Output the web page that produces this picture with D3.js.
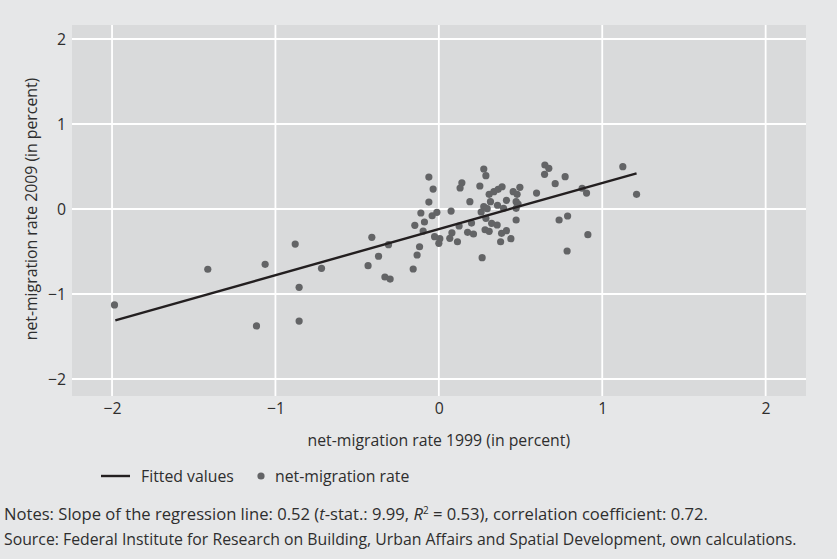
<!DOCTYPE html>
<html>
<head>
<meta charset="utf-8">
<script src="https://cdn.jsdelivr.net/npm/d3@7"></script>
<style>
  body { margin: 0; background: #e6e7e8; }
  svg { display: block; font-family: "Open Sans", sans-serif; }
</style>
</head>
<body>
<div id="chart"></div>
<script>
// net-migration rate 1999 (x) vs 2009 (y)
var rate1999 = [-0.061, -0.035, -0.061, -0.110, -0.088, -0.147, -0.096, -0.041, -0.012, -0.026,
  0.006, 0.000, -0.118, -0.133, -0.157, 0.075, 0.141, 0.130, 0.190, 0.124,
  0.080, 0.067, 0.114, 0.176, 0.212, 0.200, 0.251, 0.275, 0.288, 0.259,
  0.275, 0.296, 0.288, 0.316, 0.308, 0.337, 0.363, 0.387, 0.359, 0.396,
  0.414, 0.323, 0.357, 0.283, 0.308, 0.384, 0.414, 0.378, 0.441, 0.265,
  0.455, 0.479, 0.496, 0.473, 0.485, 0.473, 0.473, 0.598, 0.649, 0.673,
  0.647, 0.712, 0.773, 0.736, 0.788, 0.785, 0.877, 0.904, 0.912, 1.126,
  1.210, -1.985, -1.414, -1.116, -1.063, -0.879, -0.855, -0.855, -0.718, -0.433,
  -0.410, -0.369, -0.308, -0.330, -0.298];
var rate2009 = [0.376, 0.235, 0.082, -0.047, -0.153, -0.192, -0.259, -0.079, -0.039, -0.326,
  -0.349, -0.404, -0.444, -0.541, -0.706, -0.024, 0.309, 0.247, 0.086, -0.200,
  -0.279, -0.345, -0.385, -0.274, -0.294, -0.165, 0.271, 0.471, 0.392, -0.035,
  0.027, 0.004, -0.109, 0.086, 0.173, 0.204, 0.232, 0.262, 0.044, 0.008,
  0.102, -0.168, -0.188, -0.244, -0.262, -0.286, -0.255, -0.385, -0.349, -0.573,
  0.204, 0.173, 0.255, 0.086, 0.059, 0.008, -0.129, 0.188, 0.518, 0.479,
  0.408, 0.298, 0.380, -0.129, -0.082, -0.494, 0.244, 0.188, -0.302, 0.498,
  0.173, -1.129, -0.709, -1.376, -0.651, -0.412, -0.921, -1.318, -0.698, -0.667,
  -0.333, -0.556, -0.420, -0.800, -0.824];

// fitted line end points
var fitX = [-1.98, 1.21];
var fitY = [-1.31, 0.42];

var xTicks = [-2, -1, 0, 1, 2];
var yTicks = [-2, -1, 0, 1, 2];

var notes = "Notes: Slope of the regression line: 0.52 (";
var source = "Source: Federal Institute for Research on Building, Urban Affairs and Spatial Development, own calculations.";

var width = 837, height = 559;
var plot = { left: 72, right: 806, top: 25, bottom: 396 };
var fs = "15.8px";
var ink = "#2e2e2e";

var svg = d3.select("#chart").append("svg")
    .attr("width", width)
    .attr("height", height);

svg.append("rect")
    .attr("width", width).attr("height", height)
    .attr("fill", "#e6e7e8");

var x = d3.scaleLinear()
    .domain([-2.245, 2.247])
    .range([plot.left, plot.right]);

var y = d3.scaleLinear()
    .domain([-2.2, 2.165])
    .range([plot.bottom, plot.top]);

svg.append("rect")
    .attr("x", plot.left).attr("y", plot.top)
    .attr("width", plot.right - plot.left)
    .attr("height", plot.bottom - plot.top)
    .attr("fill", "#d9dadb");

// grid
svg.append("g").selectAll("line").data(xTicks).enter().append("line")
    .attr("x1", function(d) { return x(d); })
    .attr("x2", function(d) { return x(d); })
    .attr("y1", plot.top).attr("y2", plot.bottom)
    .attr("stroke", "#fff").attr("stroke-width", 1.8);

svg.append("g").selectAll("line").data(yTicks).enter().append("line")
    .attr("y1", function(d) { return y(d); })
    .attr("y2", function(d) { return y(d); })
    .attr("x1", plot.left).attr("x2", plot.right)
    .attr("stroke", "#fff").attr("stroke-width", 1.8);

// axes (labels only)
var fmt = function(d) { return d < 0 ? "\u2212" + Math.abs(d) : d; };

var xAxis = svg.append("g")
    .attr("transform", "translate(0," + (plot.bottom + 3) + ")")
    .call(d3.axisBottom(x).tickValues(xTicks).tickFormat(fmt).tickSize(0).tickPadding(4));

var yAxis = svg.append("g")
    .attr("transform", "translate(" + (plot.left - 6) + ",0)")
    .call(d3.axisLeft(y).tickValues(yTicks).tickFormat(fmt).tickSize(0).tickPadding(0));

[xAxis, yAxis].forEach(function(a) {
    a.select(".domain").remove();
    a.selectAll("text")
        .attr("fill", ink)
        .style("font-size", fs)
        .style("font-family", "'Open Sans', sans-serif");
});

// points
var pts = rate1999.map(function(d, i) { return [d, rate2009[i]]; });

svg.append("g").selectAll("circle").data(pts).enter().append("circle")
    .attr("cx", function(d) { return x(d[0]); })
    .attr("cy", function(d) { return y(d[1]); })
    .attr("r", 3.6)
    .attr("fill", "#636466");

// fitted line
svg.append("line")
    .attr("x1", x(fitX[0])).attr("y1", y(fitY[0]))
    .attr("x2", x(fitX[1])).attr("y2", y(fitY[1]))
    .attr("stroke", "#231f20")
    .attr("stroke-width", 2.4);

// axis titles
svg.append("text")
    .attr("x", x(0)).attr("y", 446)
    .attr("text-anchor", "middle")
    .attr("fill", ink).style("font-size", fs)
    .text("net-migration rate 1999 (in percent)");

svg.append("text")
    .attr("transform", "translate(37," + y(0) + ") rotate(-90)")
    .attr("text-anchor", "middle")
    .attr("fill", ink).style("font-size", fs)
    .text("net-migration rate 2009 (in percent)");

// legend
var leg = svg.append("g");
leg.append("line")
    .attr("x1", 101).attr("x2", 130).attr("y1", 476).attr("y2", 476)
    .attr("stroke", "#231f20").attr("stroke-width", 2.4);
leg.append("text")
    .attr("x", 141).attr("y", 481.5)
    .attr("fill", ink).style("font-size", fs)
    .text("Fitted values");
leg.append("circle")
    .attr("cx", 261).attr("cy", 476).attr("r", 3.6)
    .attr("fill", "#636466");
leg.append("text")
    .attr("x", 275).attr("y", 481.5)
    .attr("fill", ink).style("font-size", fs)
    .text("net-migration rate");

// notes
var n = svg.append("text")
    .attr("x", 4).attr("y", 520)
    .attr("fill", ink).style("font-size", "16.6px");
n.append("tspan").text(notes);
n.append("tspan").style("font-style", "italic").text("t");
n.append("tspan").text("-stat.: 9.99, ");
n.append("tspan").style("font-style", "italic").text("R");
n.append("tspan").attr("dy", -6).style("font-size", "10px").text("2");
n.append("tspan").attr("dy", 6).text(" = 0.53), correlation coefficient: 0.72.");

svg.append("text")
    .attr("x", 4).attr("y", 545)
    .attr("fill", ink).style("font-size", fs)
    .text(source);
</script>
</body>
</html>
